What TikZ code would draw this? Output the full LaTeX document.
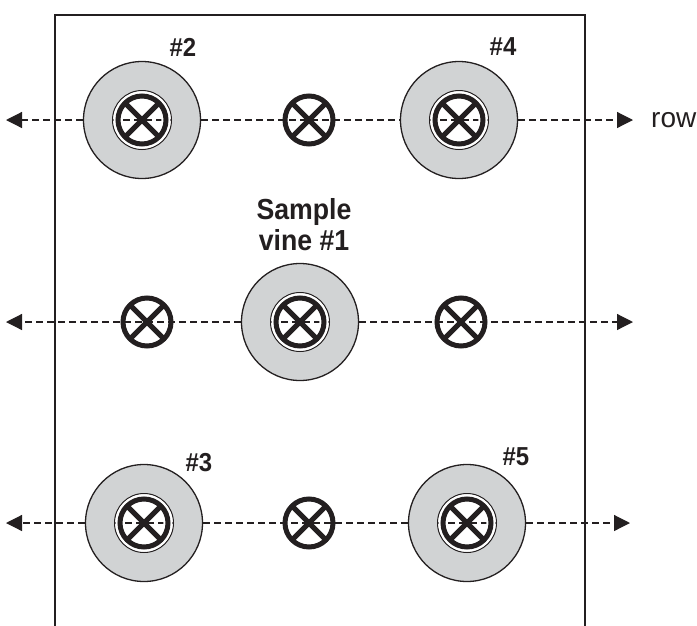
\documentclass[tikz,border=0pt]{standalone}
\usepackage{fontspec}
\setmainfont{Liberation Sans}
\newfontfamily\labfont{Liberation Sans}[FakeStretch=0.92]
\usetikzlibrary{arrows.meta}
\definecolor{vinegray}{HTML}{D1D3D4}
\definecolor{inkk}{HTML}{231F20}
\tikzset{
  vine/.style={circle, draw=inkk, line width=1.3pt, fill=vinegray, minimum size=117pt, inner sep=0pt},
  ring/.style={circle, draw=inkk, line width=1pt, fill=white, minimum size=59pt, inner sep=0pt},
  xmark/.style={circle, draw=inkk, line width=5pt, minimum size=48pt, inner sep=0pt,
    path picture={\draw[inkk, line width=5pt] (path picture bounding box.north east) -- (path picture bounding box.south west)
      (path picture bounding box.north west) -- (path picture bounding box.south east);}},
  xin/.style={xmark, preaction={draw=white, line width=9pt}},
  dashline/.style={draw=inkk, line width=1.2pt, dash pattern=on 7pt off 4pt},
  arr/.style={-{Triangle[length=16pt,width=16pt]}},
  boxline/.style={draw=inkk, line width=1.5pt},
  lab/.style={font=\labfont\bfseries\fontsize{26}{30}\selectfont, inner sep=0pt, text=inkk},
}
\begin{document}
\begin{tikzpicture}[x=1pt, y=-1pt]
\useasboundingbox (0,0) rectangle (697,625);
% plot boundary
\draw[boxline] (55,626) -- (55,15) -- (585,15) -- (585,626);
% end coordinates
\coordinate (L1) at (6,120);  \coordinate (R1) at (633,120);
\coordinate (L2) at (6,322);  \coordinate (R2) at (633,322);
\coordinate (L3) at (6,523);  \coordinate (R3) at (630,523);
% sample vines
\node[vine] (v2) at (142,120) {};
\node[vine] (v4) at (459,120) {};
\node[vine] (v1) at (300,322) {};
\node[vine] (v3) at (144,523) {};
\node[vine] (v5) at (467,523) {};
\foreach \v in {v1,v2,v3,v4,v5} { \node[ring] (r\v) at (\v) {}; }
% rows
\draw[dashline, arr] (v2.west) -- (L1);
\draw[dashline] (v2.east) -- (v4.west);
\draw[dashline, arr] (v4.east) -- (R1);
\draw[dashline, arr] (v1.west) -- (L2);
\draw[dashline, arr] (v1.east) -- (R2);
\draw[dashline, arr] (v3.west) -- (L3);
\draw[dashline] (v3.east) -- (v5.west);
\draw[dashline, arr] (v5.east) -- (R3);
\foreach \v in {v1,v2,v3,v4,v5} { \draw[dashline] (r\v.west) -- (r\v.east); }
% vines
\foreach \v in {v1,v2,v3,v4,v5} { \node[xin] (x\v) at (\v) {}; }
\node[xmark] (xa) at (309,120) {};
\node[xmark] (xb) at (147,322) {};
\node[xmark] (xc) at (461,322) {};
\node[xmark] (xd) at (309,523) {};
% labels
\node[lab] (t2) at (183,47) {\#2};
\node[lab] (t4) at (503,47) {\#4};
\node[lab] (t3) at (199,463) {\#3};
\node[lab] (t5) at (516,457) {\#5};
\node[lab, font=\labfont\bfseries\fontsize{29}{31}\selectfont, align=center] (t1) at (304,225) {Sample\\vine \#1};
\node[anchor=base west, inner sep=0pt, font=\fontsize{28}{30}\selectfont, text=inkk] (row) at (651,127) {row};
\end{tikzpicture}
\end{document}
